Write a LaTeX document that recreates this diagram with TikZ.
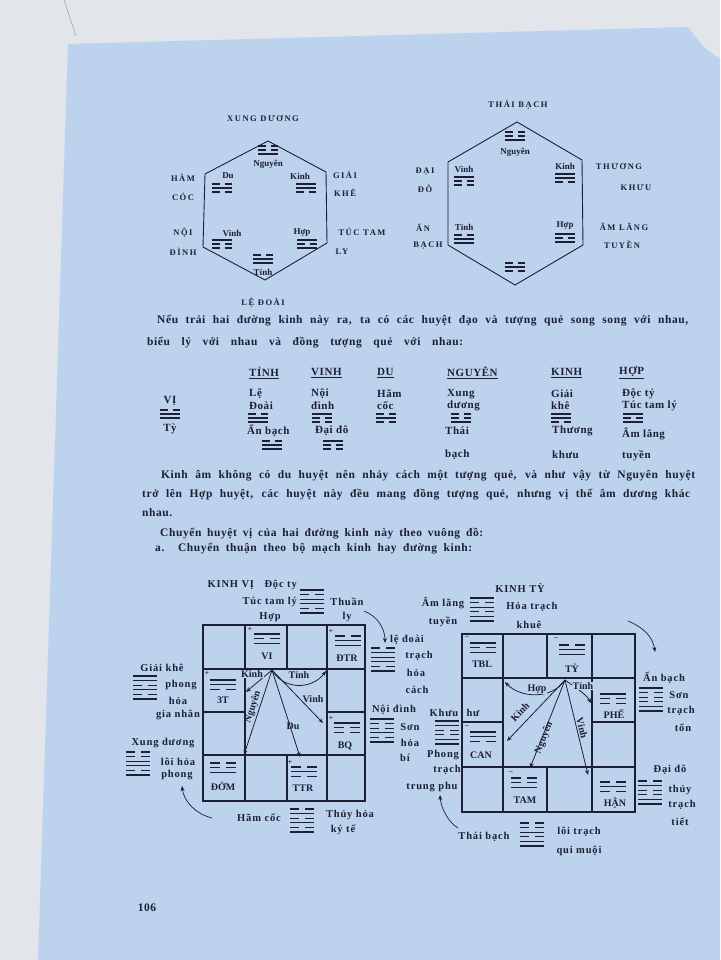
\documentclass[tikz,border=0pt]{standalone}
\usepackage{fontspec}
\setmainfont{Liberation Serif}
\newfontfamily\spaced[LetterSpace=18]{Liberation Serif}
\newfontfamily\bodyface[LetterSpace=5]{Liberation Serif}
\newfontfamily\noteface[LetterSpace=8]{Liberation Serif}
\usetikzlibrary{arrows.meta,positioning}
\definecolor{pageblue}{RGB}{189,211,237}
\definecolor{deskgray}{RGB}{226,229,233}
\definecolor{ink}{RGB}{28,32,50}

\begin{document}
\begin{tikzpicture}[
  x=1pt, y=-1pt,
  hexcap/.style={font=\spaced\bfseries\fontsize{8.5}{9}\selectfont, text=ink, inner sep=0pt},
  hexlbl/.style={font=\bfseries\fontsize{9}{9}\selectfont, text=ink, inner sep=0pt},
  body/.style={font=\bodyface\bfseries\fontsize{11.5}{13}\selectfont, text=ink, inner sep=0pt, anchor=west},
  tab/.style={font=\bodyface\bfseries\fontsize{11}{12}\selectfont, text=ink, inner sep=0pt, anchor=west},
  note/.style={font=\noteface\bfseries\fontsize{10.5}{11}\selectfont, text=ink, inner sep=0pt},
  cell/.style={font=\bfseries\fontsize{10}{10}\selectfont, text=ink, inner sep=0pt},
  sign/.style={font=\bfseries\fontsize{7.5}{7.5}\selectfont, text=ink, inner sep=0pt},
  wall/.style={draw=ink, line width=1.1pt},
  ray/.style={draw=ink, line width=0.8pt, -{Stealth[length=5pt,width=4pt]}},
  curlarrow/.style={draw=ink, line width=0.7pt, -{Stealth[length=5pt,width=4pt]}},
  gua line/.style={draw=ink, line width=1.3pt},
  gua/.pic={
    \foreach \b [count=\i] in {#1}{
      \ifnum\b=1
        \draw[gua line] (-10,{(\i-1)*4}) -- (10,{(\i-1)*4});
      \else
        \draw[gua line] (-10,{(\i-1)*4}) -- (-2.5,{(\i-1)*4}) (2.5,{(\i-1)*4}) -- (10,{(\i-1)*4});
      \fi
    }
  },
  hexa/.style={xscale=1.2, yscale=1.15},
  cellgua/.style={xscale=1.3, yscale=1.2}
]
\useasboundingbox (0,0) rectangle (720,960);
% page and desk
\fill[deskgray] (0,0) rectangle (720,960);
\fill[pageblue] (68,44) -- (688,27) .. controls (698,40) and (706,52) .. (720,58) -- (720,960) -- (38,960) -- cycle;
\draw[deskgray!70!black, line width=0.6pt] (64,0) -- (76,36);

% hexagon XUNG DUONG
\node[hexcap] (xdtitle) at (263,118) {XUNG DƯƠNG};
\draw[wall, line width=0.9pt] (268,141) -- (326,172) -- (327,243) -- (265,280) -- (203,247) -- (205,174) -- cycle;
\pic at (268,146) {gua={0,0,1}};
\node[hexlbl] (h1ng) at (268,164) {Nguyên};
\node[hexlbl] (h1du) at (228,176) {Du};
\pic at (222,184) {gua={0,1,0}};
\node[hexlbl] (h1ki) at (300,176) {Kinh};
\pic at (306,184) {gua={1,1,0}};
\node[hexlbl] (h1vi) at (232,233) {Vinh};
\pic at (222,240) {gua={1,0,0}};
\node[hexlbl] (h1ho) at (302,233) {Hợp};
\pic at (307,240) {gua={1,0,1}};
\pic at (263,255) {gua={0,1,1}};
\node[hexlbl] (h1ti) at (263,272) {Tỉnh};
\node[hexcap] (ham) at (183,178) {HÀM};
\node[hexcap] (coc) at (183,197) {CÓC};
\node[hexcap] (giai) at (345,175) {GIẢI};
\node[hexcap] (khe) at (345,193) {KHÊ};
\node[hexcap] (noi) at (183,233) {NỘI};
\node[hexcap] (dinh) at (183,252) {ĐÌNH};
\node[hexcap] (tuctam) at (362,232) {TÚC TAM};
\node[hexcap] (ly) at (342,252) {LY};
\node[hexcap] (ledoai) at (263,303) {LỆ ĐOÀI};

% hexagon THAI BACH
\node[hexcap] (tbtitle) at (518,105) {THÁI BẠCH};
\draw[wall, line width=0.9pt] (517,122) -- (582,160) -- (583,245) -- (515,285) -- (448,245) -- (448,162) -- cycle;
\pic at (515,132) {gua={0,0,1}};
\node[hexlbl] (h2ng) at (515,152) {Nguyên};
\node[hexlbl] (h2vi) at (464,169) {Vinh};
\pic at (464,177) {gua={1,0,0}};
\node[hexlbl] (h2ki) at (565,166) {Kinh};
\pic at (565,174) {gua={1,1,0}};
\node[hexlbl] (h2ti) at (464,227) {Tỉnh};
\pic at (464,235) {gua={0,1,1}};
\node[hexlbl] (h2ho) at (565,226) {Hợp};
\pic at (565,234) {gua={1,0,1}};
\pic at (515,263) {gua={0,1,0}};
\node[hexcap] (dai) at (425,172) {ĐẠI};
\node[hexcap] (do) at (425,189) {ĐÔ};
\node[hexcap] (thuong) at (619,166) {THƯƠNG};
\node[hexcap] (khuu) at (636,187) {KHƯU};
\node[hexcap] (an) at (423,228) {ẨN};
\node[hexcap] (bach) at (428,246) {BẠCH};
\node[hexcap] (amlang) at (624,227) {ÂM LĂNG};
\node[hexcap] (tuyen) at (622,245) {TUYỀN};

% first paragraph
\node[body] (p1a) at (157,321) {\makebox[531pt][s]{Nếu trải hai đường kinh này ra, ta có các huyệt đạo và tượng quẻ song song với nhau,}};
\node[body] (p1b) at (147,343) {\makebox[316pt][s]{biểu lý với nhau và đồng tượng quẻ với nhau:}};

% table
\node[tab, anchor=center] (tvi) at (170,401) {VỊ};
\pic at (170,410) {gua={0,1,1}};
\node[tab, anchor=center] (tty) at (170,429) {Tỳ};
\node[tab] (hti) at (249,373) {\underline{TỈNH}};
\node[tab] (hvi) at (311,373) {\underline{VINH}};
\node[tab] (hdu) at (377,373) {\underline{DU}};
\node[tab] (hng) at (447,373) {\underline{NGUYÊN}};
\node[tab] (hki) at (551,373) {\underline{KINH}};
\node[tab] (hho) at (619,373) {\underline{HỢP}};
\node[tab] (r1a) at (249,394) {Lệ};
\node[tab] (r1b) at (311,394) {Nội};
\node[tab] (r1c) at (377,394) {Hãm};
\node[tab] (r1d) at (447,394) {Xung};
\node[tab] (r1e) at (551,394) {Giải};
\node[tab] (r1f) at (622,394) {Độc tỷ};
\node[tab] (r2a) at (249,406) {Đoài};
\node[tab] (r2b) at (311,406) {đình};
\node[tab] (r2c) at (377,406) {cốc};
\node[tab] (r2d) at (447,406) {dương};
\node[tab] (r2e) at (551,406) {khê};
\node[tab] (r2f) at (622,406) {Túc tam lý};
\pic at (258,414) {gua={0,1,1}};
\pic at (322,414) {gua={1,0,0}};
\pic at (386,414) {gua={0,1,0}};
\pic at (461,414) {gua={0,0,1}};
\pic at (561,414) {gua={1,1,0}};
\pic at (633,414) {gua={1,0,1}};
\node[tab] (r3a) at (247,431) {Ẩn bạch};
\node[tab] (r3b) at (315,431) {Đại đô};
\node[tab] (r3d) at (445,431) {Thái};
\node[tab] (r3e) at (552,431) {Thương};
\node[tab] (r3f) at (622,434) {Âm lăng};
\pic at (272,441) {gua={0,1,1}};
\pic at (333,441) {gua={1,0,0}};
\node[tab] (r4d) at (445,455) {bạch};
\node[tab] (r4e) at (552,455) {khưu};
\node[tab] (r4f) at (622,456) {tuyền};

% second paragraph
\node[body] (p2a) at (161,476) {\makebox[534pt][s]{Kinh âm không có du huyệt nên nhảy cách một tượng quẻ, và như vậy từ Nguyên huyệt}};
\node[body] (p2b) at (142,495) {\makebox[548pt][s]{trở lên Hợp huyệt, các huyệt này đều mang đồng tượng quẻ, nhưng vị thế âm dương khác}};
\node[body] (p2c) at (142,513) {nhau.};
\node[body] (p3) at (160,534) {\makebox[323pt][s]{Chuyển huyệt vị của hai đường kinh này theo vuông đồ:}};
\node[body] (p4) at (155,549) {\makebox[317pt][s]{a. Chuyển thuận theo bộ mạch kinh hay đường kinh:}};

% left square: KINH VI
\draw[wall] (203,625) rectangle (365,801);
\draw[wall] (203,669) -- (365,669) (203,755) -- (365,755)
  (203,712) -- (245,712) (327,712) -- (365,712)
  (245,625) -- (245,801) (327,625) -- (327,801)
  (287,625) -- (287,669) (287,755) -- (287,801);
\node[sign] (lvis) at (250,629) {+};
\pic[cellgua] at (267,634) {gua={1,0,1}};
\node[cell] (lvi) at (267,656) {VI};
\node[sign] (ldtrs) at (331,631) {+};
\pic[cellgua] at (348,636) {gua={0,1,1}};
\node[cell] (ldtr) at (347,658) {ĐTR};
\node[sign] (l3ts) at (207,673) {+};
\pic[cellgua] at (223,680) {gua={1,1,0}};
\node[cell] (l3t) at (223,700) {3T};
\node[sign] (lbqs) at (331,718) {+};
\pic[cellgua] at (347,723) {gua={1,0,0}};
\node[cell] (lbq) at (345,746) {BQ};
\pic[cellgua] at (223,763) {gua={0,0,1}};
\node[cell] (ldom) at (223,786) {ĐỞM};
\node[sign] (lttrs) at (290,762) {+};
\pic[cellgua] at (304,767) {gua={0,1,0}};
\node[cell] (lttr) at (303,788) {TTR};
\coordinate (lapex) at (272,670);
\coordinate (lkinh) at (246,692);
\coordinate (ltinh) at (326,671);
\coordinate (lvinh) at (323,723);
\coordinate (ldu) at (300,757);
\coordinate (lnguyen) at (244,755);
\draw[ray] (lapex) -- (lkinh);
\draw[ray] (lapex) .. controls (283,690) and (312,690) .. (ltinh);
\draw[ray] (lapex) -- (lvinh);
\draw[ray] (lapex) -- (ldu);
\draw[ray] (lapex) -- (lnguyen);
\node[cell, fill=pageblue, inner sep=1pt] (lkinhl) at (252,674) {Kinh};
\node[cell, fill=pageblue, inner sep=1pt] (ltinhl) at (299,675) {Tỉnh};
\node[cell] (lvinhl) at (313,699) {Vinh};
\node[cell] (ldul) at (293,726) {Du};
\node[cell, rotate=72] (lnguyenl) at (253,707) {Nguyên};

% labels round the left square
\node[note, anchor=east] (kvtitle) at (297,585) {KINH VỊ\quad Độc ty};
\node[note, anchor=east] (kvtuc) at (297,602) {Túc tam lý};
\pic[hexa] at (312,590) {gua={1,0,1,1,0,1}};
\node[note] (kvthuan) at (347,602) {Thuần};
\node[note] (kvly) at (347,617) {ly};
\node[note] (kvhop) at (270,617) {Hợp};
\draw[curlarrow] (364,611) .. controls (377,616) and (385,628) .. (385,643);
\node[note] (ledo) at (407,640) {lệ đoài};
\pic[hexa] at (383,648) {gua={0,1,1,1,0,1}};
\node[note] (ledo2) at (419,656) {trạch};
\node[note] (ledo3) at (416,673) {hỏa};
\node[note] (ledo4) at (417,690) {cách};
\node[note] (nd) at (394,710) {Nội đình};
\pic[hexa] at (382,719) {gua={1,0,0,1,0,1}};
\node[note] (nd2) at (410,727) {Sơn};
\node[note] (nd3) at (410,743) {hỏa};
\node[note] (nd4) at (405,758) {bí};
\node[note] (gk) at (162,668) {Giải khê};
\pic[hexa] at (145,676) {gua={1,1,0,1,0,1}};
\node[note] (gk2) at (181,685) {phong};
\node[note] (gk3) at (178,701) {hỏa};
\node[note] (gk4) at (178,715) {gia nhân};
\node[note] (xd) at (163,743) {Xung dương};
\pic[hexa] at (138,752) {gua={0,0,1,1,0,1}};
\node[note] (xd2) at (178,762) {lôi hỏa};
\node[note] (xd3) at (177,775) {phong};
\draw[curlarrow] (212,818) .. controls (196,814) and (184,802) .. (182,786);
\node[note] (hc) at (259,818) {Hãm cốc};
\pic[hexa] at (302,809) {gua={0,1,0,1,0,1}};
\node[note] (hc2) at (350,815) {Thủy hỏa};
\node[note] (hc3) at (343,830) {ký tế};

% right square: KINH TY
\draw[wall] (462,634) rectangle (635,812);
\draw[wall] (462,678) -- (635,678) (462,767) -- (635,767)
  (462,722) -- (503,722) (592,722) -- (635,722)
  (503,634) -- (503,812) (592,634) -- (592,812)
  (547,634) -- (547,678) (547,767) -- (547,812);
\node[sign] (rtbls) at (467,637) {–};
\pic[cellgua] at (483,643) {gua={1,0,1}};
\node[cell] (rtbl) at (482,664) {TBL};
\node[sign] (rtys) at (556,638) {–};
\pic[cellgua] at (572,645) {gua={0,1,1}};
\node[cell] (rty) at (572,668) {TỲ};
\pic[cellgua] at (613,694) {gua={1,0,0}};
\node[cell] (rphe) at (614,714) {PHẾ};
\node[sign] (rcans) at (467,726) {–};
\pic[cellgua] at (483,732) {gua={1,1,0}};
\node[cell] (rcan) at (481,755) {CAN};
\node[sign] (rtams) at (511,772) {–};
\pic[cellgua] at (524,778) {gua={0,0,1}};
\node[cell] (rtam) at (525,800) {TAM};
\pic[cellgua] at (613,782) {gua={0,1,0}};
\node[cell] (rhan) at (615,803) {HẬN};
\coordinate (rapex) at (565,680);
\coordinate (rhop) at (505,682);
\coordinate (rtinh) at (591,703);
\coordinate (rkinh) at (507,741);
\coordinate (rnguyen) at (530,768);
\coordinate (rvinh) at (588,775);
\draw[ray] (rapex) .. controls (552,700) and (520,698) .. (rhop);
\draw[ray] (rapex) .. controls (576,688) and (586,694) .. (rtinh);
\draw[ray] (rapex) -- (rkinh);
\draw[ray] (rapex) -- (rnguyen);
\draw[ray] (rapex) -- (rvinh);
\node[cell, fill=pageblue, inner sep=1pt] (rhopl) at (537,689) {Hợp};
\node[cell, fill=pageblue, inner sep=1pt] (rtinhl) at (583,686) {Tỉnh};
\node[cell, rotate=46] (rkinhl) at (520,712) {Kinh};
\node[cell, rotate=68] (rnguyenl) at (544,738) {Nguyên};
\node[cell, rotate=-76] (rvinhl) at (582,728) {Vinh};

% labels round the right square
\node[note] (kttitle) at (520,588) {KINH TỲ};
\node[note] (alt) at (443,603) {Âm lăng};
\node[note] (alt2) at (443,622) {tuyền};
\pic[hexa] at (482,598) {gua={1,0,1,0,1,1}};
\node[note] (alt3) at (532,607) {Hỏa trạch};
\node[note] (alt4) at (529,625) {khuê};
\draw[curlarrow] (628,621) .. controls (645,628) and (653,638) .. (655,652);
\node[note] (ab) at (664,678) {Ẩn bạch};
\pic[hexa] at (651,688) {gua={1,0,0,0,1,1}};
\node[note] (ab2) at (679,695) {Sơn};
\node[note] (ab3) at (681,711) {trạch};
\node[note] (ab4) at (683,728) {tổn};
\node[note] (kh) at (444,713) {Khưu};
\node[note] (kh1) at (473,713) {hư};
\pic[hexa] at (447,721) {gua={1,1,0,0,1,1}};
\node[note] (kh2) at (443,755) {Phong};
\node[note] (kh3) at (447,770) {trạch};
\node[note] (kh4) at (432,787) {trung phu};
\node[note] (dd) at (670,770) {Đại đô};
\pic[hexa] at (650,781) {gua={0,1,0,0,1,1}};
\node[note] (dd2) at (680,790) {thủy};
\node[note] (dd3) at (682,805) {trạch};
\node[note] (dd4) at (680,822) {tiết};
\draw[curlarrow] (458,828) .. controls (448,822) and (441,808) .. (440,795);
\node[note] (tb) at (484,837) {Thái bạch};
\pic[hexa] at (532,823) {gua={0,0,1,0,1,1}};
\node[note] (tb2) at (579,832) {lôi trạch};
\node[note] (tb3) at (579,851) {qui muội};

\node[body, anchor=center] (pageno) at (147,908) {106};
\end{tikzpicture}
\end{document}
